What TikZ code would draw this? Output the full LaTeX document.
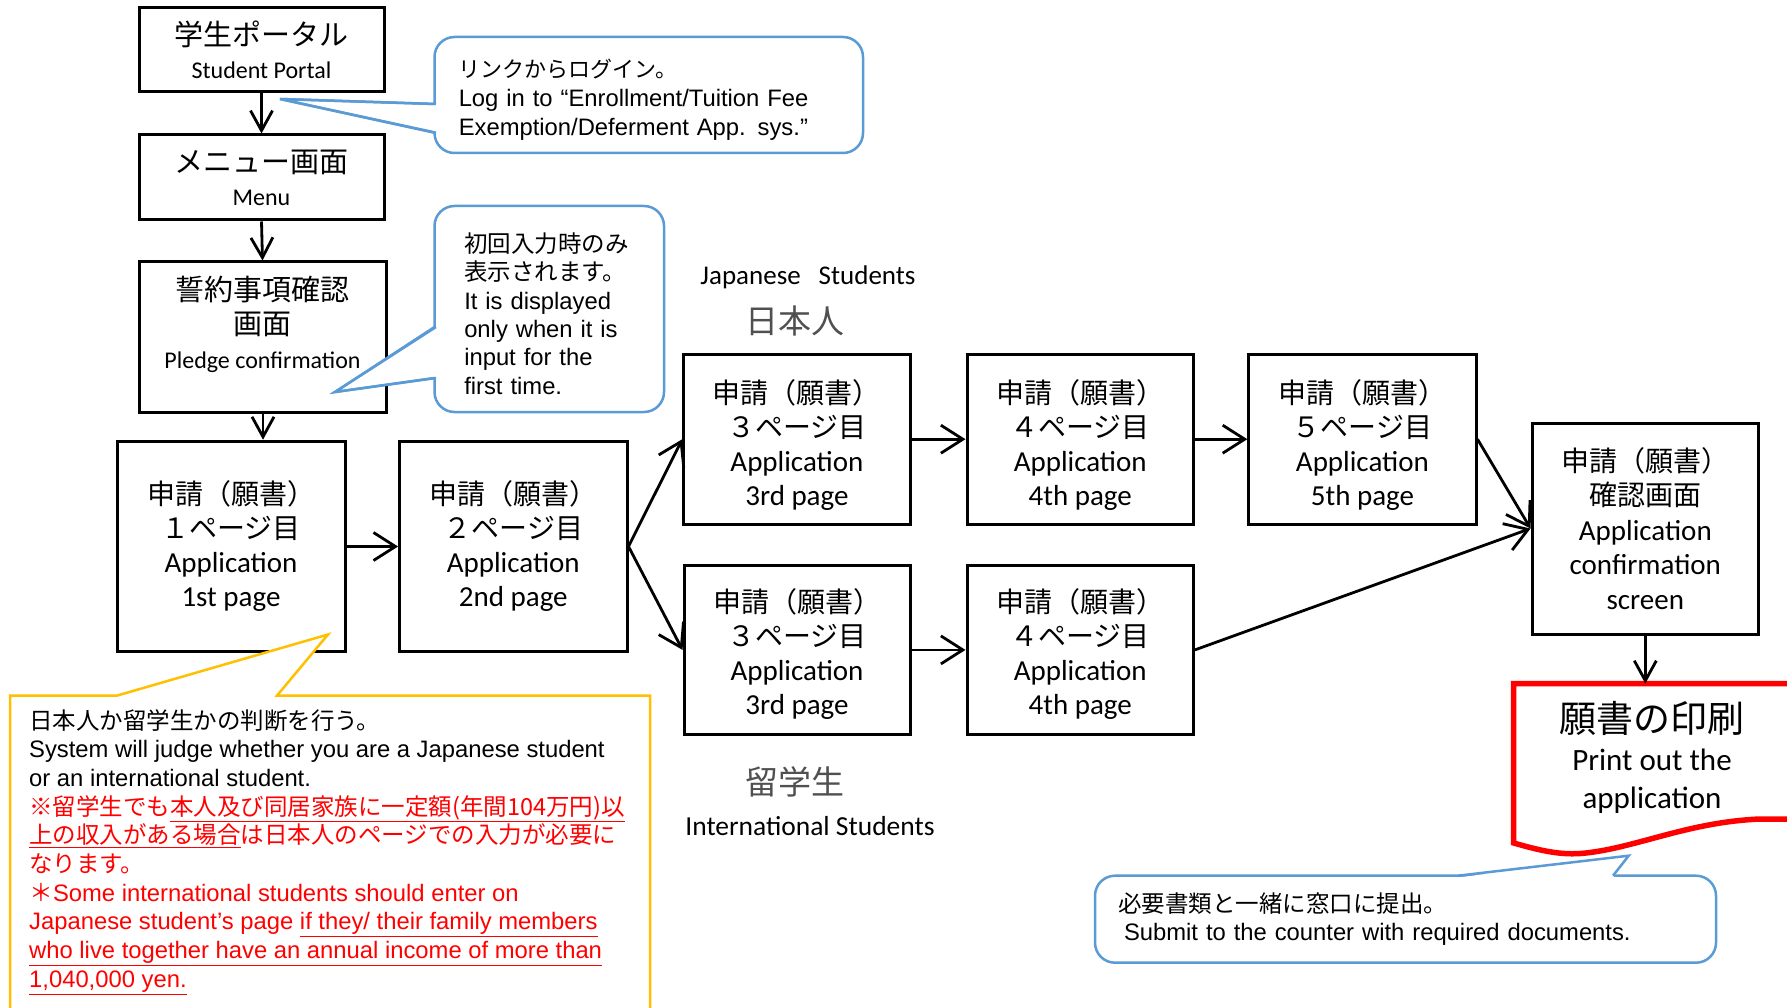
\documentclass[tikz,border=0pt]{standalone}
\usepackage{fontspec}
\setmainfont{Carlito}
\newfontfamily\jp{Noto Sans CJK JP}
\newfontfamily\ar{Liberation Sans}
\usetikzlibrary{arrows.meta,calc}
\definecolor{cblue}{HTML}{5B9BD5}
\definecolor{cyel}{HTML}{FFC000}
\definecolor{cred}{HTML}{FF0000}
\definecolor{cgray}{HTML}{505050}
\newcommand\fs[2]{\fontsize{#1}{#2}\selectfont}
\newcommand\bj[1]{{\jp\fs{28}{34}#1}}
\begin{document}
\begin{tikzpicture}[x=1pt,y=-1pt,
  box/.style={draw=black,line width=3pt,align=center,inner sep=0pt},
  flowh/.style={line width=2.8pt,-{Straight Barb[length=22pt,width=28pt,line width=2.8pt]}},
  flowv/.style={line width=2.8pt,-{Straight Barb[length=20pt,width=22pt,line width=2.8pt]}},
  bcall/.style={draw=cblue,line width=2.5pt,rounded corners=20pt,fill=white,inner sep=0pt,align=left},
  bptr/.style={draw=cblue,line width=2.5pt,fill=white,line join=miter},
  topbox/.style={box,font=\fs{24}{33}},
  appbox/.style={box,font=\fs{29}{34}},
  cjk/.style={font=\jp\fs{33}{36},text=cgray},
  lbl/.style={font=\fs{27}{30}},
  calltext/.style={font=\ar\fs{23.8}{29}}
]
\useasboundingbox (0,0) rectangle (1787,1008);
\clip (0,0) rectangle (1787,1008);
\fill[white] (0,0) rectangle (1787,1008);

% left column
\node[topbox,minimum width=245pt,minimum height=84pt] (portal) at (261.5,50)
  {{\jp\fs{29}{33}学生ポータル}\\Student Portal};
\node[topbox,minimum width=245pt,minimum height=85pt] (menu) at (261.5,177.5)
  {{\jp\fs{29}{33}メニュー画面}\\Menu};
\node[topbox,minimum width=247pt,minimum height=150pt,font=\fs{24}{34},text depth=30pt] (pledge) at (262.5,337)
  {{\jp\fs{29}{34}誓約事項確認}\\{\jp\fs{29}{34}画面}\\Pledge confirmation};

% application pages
\node[appbox,minimum width=228pt,minimum height=210.6pt] (app1) at (231,546.5)
  {\bj{申請（願書）}\\\bj{１ページ目}\\Application\\1st page};
\node[appbox,minimum width=227.4pt,minimum height=210.6pt] (app2) at (513.3,546.5)
  {\bj{申請（願書）}\\\bj{２ページ目}\\Application\\2nd page};
\node[appbox,minimum width=226.3pt,minimum height=170.4pt,text height=136.8pt] (j3) at (796.9,439.2)
  {\bj{申請（願書）}\\\bj{３ページ目}\\Application\\3rd page};
\node[appbox,minimum width=226.4pt,minimum height=170.4pt,text height=136.8pt] (j4) at (1080.2,439.2)
  {\bj{申請（願書）}\\\bj{４ページ目}\\Application\\4th page};
\node[appbox,minimum width=227.2pt,minimum height=170.4pt,text height=136.8pt] (j5) at (1362.4,439.2)
  {\bj{申請（願書）}\\\bj{５ページ目}\\Application\\5th page};
\node[appbox,minimum width=226pt,minimum height=168.3pt,text height=133.4pt] (i3) at (797,649.9)
  {\bj{申請（願書）}\\\bj{３ページ目}\\Application\\3rd page};
\node[appbox,minimum width=226.4pt,minimum height=168.3pt,text height=133.4pt] (i4) at (1080.2,649.9)
  {\bj{申請（願書）}\\\bj{４ページ目}\\Application\\4th page};
\node[appbox,minimum width=226.5pt,minimum height=211pt,font=\fs{29}{34.5}] (conf) at (1645.3,528.5)
  {{\jp\fs{28}{34.5}申請（願書）}\\{\jp\fs{28}{34.5}確認画面}\\Application\\confirmation\\screen};

% labels
\node[lbl] (jslbl) at (808,277) {Japanese\hspace{18pt}Students};
\node[cjk] (jplbl) at (795,321) {日本人};
\node[cjk] (intjp) at (795,782) {留学生};
\node[lbl,font=\fs{27.5}{30}] (intlbl) at (810,826) {International Students};

% print shape
\draw[draw=cred,line width=5.5pt,fill=white,line join=miter]
  (1800,683.6) -- (1513.7,683.6) -- (1513.7,843)
  .. controls (1545,852) and (1565,856) .. (1590,852.5)
  .. controls (1640,846) and (1690,822) .. (1760,819)
  -- (1800,819);
\coordinate (printtop) at (1645.3,683.6);
\node[align=center,font=\fs{31}{38}] (print) at (1652,757)
  {{\jp\fs{37}{38}願書の印刷}\\Print out the\\application};

% connectors
\draw[flowv] (portal.south) -- (menu.north);
\draw[flowv] (menu.south) -- (pledge.north);
\draw[flowv] ($(pledge.south)+(0.5,0)$) -- ($(pledge.south |- app1.north)+(0.5,0)$);
\draw[flowh] (app1.east) -- (app2.west);
\draw[flowh] (app2.east) -- (j3.west);
\draw[flowh] (app2.east) -- (i3.west);
\draw[flowh] (j3.east) -- (j4.west);
\draw[flowh] (j4.east) -- (j5.west);
\draw[flowh] (i3.east) -- (i4.west);
\draw[flowh] (j5.east) -- (conf.west);
\draw[flowh] (i4.east) -- (conf.west);
\draw[flowv] (conf.south) -- (printtop);

% callout 1
\node[bcall,calltext,minimum width=428.5pt,minimum height=116pt,text width=380pt,text height=27pt] (c1) at (648.75,95)
  {{\jp\fs{22}{29}リンクからログイン。}\\Log in to “Enrollment/Tuition Fee\\Exemption/Deferment App. sys.”};
\path[bptr] (436,104) -- (280,99) -- (436,132.7);
\draw[cblue,line width=2.5pt,line join=miter] (434.5,104) -- (280,99) -- (434.5,132.7);

% callout 2
\node[bcall,calltext,font=\ar\fs{23.8}{28.3},minimum width=229.5pt,minimum height=206pt,text width=170pt,text height=29pt] (c2) at (549.25,309)
  {{\jp\fs{23.5}{28.3}初回入力時のみ}\\{\jp\fs{23.5}{28.3}表示されます。}\\It is displayed\\only when it is\\input for the\\first time.};
\path[bptr] (436,327) -- (335,392) -- (436,378);
\draw[cblue,line width=2.5pt,line join=miter] (434.5,327) -- (335,392) -- (434.5,378);

% callout 3
\node[bcall,calltext,font=\ar\fs{23.8}{28},minimum width=621pt,minimum height=87pt,text width=575pt] (c3) at (1405.5,919.2)
  {{\jp\fs{23.5}{28}必要書類と一緒に窓口に提出。}\\\hspace{6pt}Submit to the counter with required documents.};
\path[fill=white] (1458,877.5) -- (1628.7,855.7) -- (1613,877.5);
\draw[cblue,line width=2.5pt,line join=miter] (1458,875.7) -- (1628.7,855.7) -- (1613,875.7);

% yellow callout
\path[fill=white] (117,697) -- (328,634.5) -- (277,697) -- cycle;
\draw[cyel,line width=2.5pt,line join=miter]
  (10,1030) -- (10,695.6) -- (117,695.6) -- (328,634.5) -- (277,695.6) -- (650,695.6) -- (650,1030);
\node[anchor=north west,align=left,inner sep=0pt,calltext,font=\ar\fs{23.8}{28.7}] (judge) at (29,709)
  {{\jp\fs{23.5}{28.7}日本人か留学生かの判断を行う。}\\
   System will judge whether you are a Japanese student\\
   or an international student.\\
   \textcolor{cred}{\jp\fs{23.5}{28.7}※留学生でも\underline{本人及び同居家族に一定額(年間104万円)以}}\\
   \textcolor{cred}{\jp\fs{23.5}{28.7}\underline{上の収入がある場合}は日本人のページでの入力が必要に}\\
   \textcolor{cred}{\jp\fs{23.5}{28.7}なります。}\\
   \textcolor{cred}{{\jp ＊}Some international students should enter on}\\
   \textcolor{cred}{Japanese student’s page \underline{if they/ their family members}}\\
   \textcolor{cred}{\underline{who live together have an annual income of more than}}\\
   \textcolor{cred}{\underline{1,040,000 yen.}}};
\end{tikzpicture}
\end{document}
